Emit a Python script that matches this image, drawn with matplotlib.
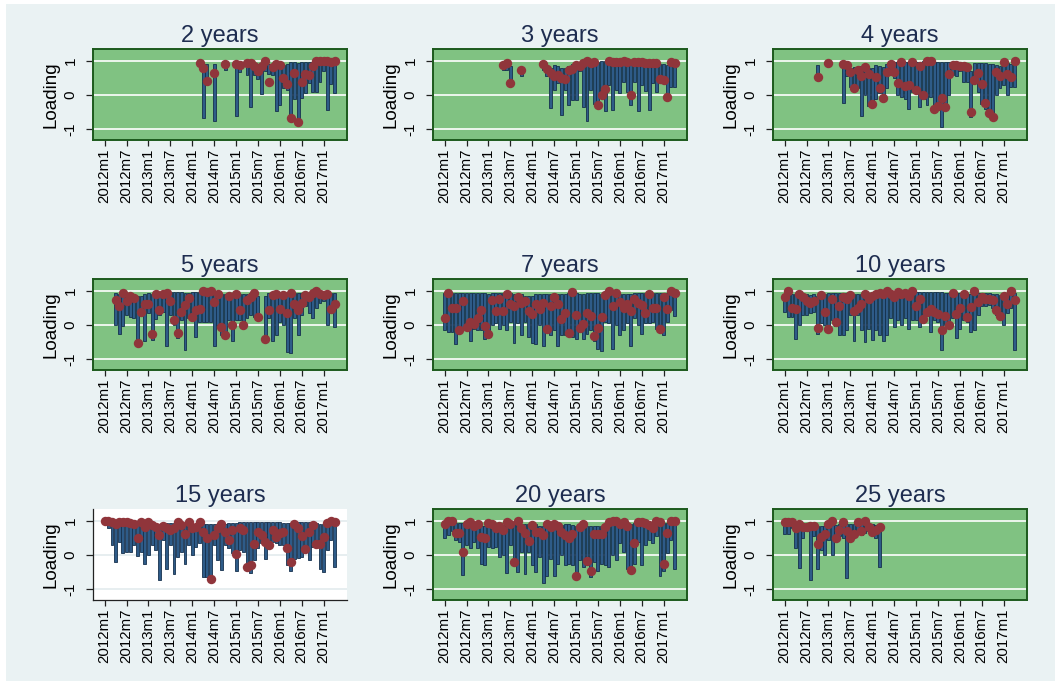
import numpy as np
import matplotlib
matplotlib.use("Agg")
import matplotlib.pyplot as plt
from matplotlib.patches import Rectangle

plt.rcParams['font.family'] = ['Liberation Sans', 'DejaVu Sans']

# months 0..63 = 2012m1 .. 2017m4
n_months = 64
tick_pos = list(range(0, 61, 6))
tick_labels = ['2012m1', '2012m7', '2013m1', '2013m7', '2014m1', '2014m7',
               '2015m1', '2015m7', '2016m1', '2016m7', '2017m1']
titles = ['2 years', '3 years', '4 years', '5 years', '7 years',
          '10 years', '15 years', '20 years', '25 years']

N = None

# 2 years (starts 2014m3)
y2_start = 26
y2_dot = [.94, .80, .41, N, .66, N, N, .90, N, N, .90, .88, N, .93, .95, .85, .72, .85,
          1.0, .38, .82, .90, .87, .50, .33, -.67, .66, -.77, .38, .63, .58, .85, .99,
          1.0, 1.0, 1.0, .98, .99]
y2_hi = [.94, .90, .90, N, .90, N, N, .92, N, N, .90, .90, N, .95, .95, .92, .90, .90,
         1.0, .90, .90, .90, .90, .88, .90, .97, .97, .95, .97, .98, .98, .98, 1.0,
         1.0, 1.0, 1.0, .98, .99]
y2_lo = [.85, -.67, .40, N, -.76, N, N, .75, N, N, -.60, .68, N, .58, -.35, .60, .47, .03,
         .70, .62, .60, -.47, -.28, .20, .15, -.67, -.10, -.77, -.07, .05, .35, .10, .10,
         .38, .70, -.42, .33, .05]

# 3 years (starts 2013m5)
y3_start = 16
y3_dot = [.88, .93, .36, N, N, .73, N, N, N, N, N, .90, .78, .65, .55, .60, .50, .48,
          .75, .78, .88, .85, .95, 1.0, .95, .97, -.30, .00, .18, 1.0, .98, .98, .98,
          1.0, .98, .00, .98, .97, .96, .95, .95, .95, .95, .48, .43, -.05, .97, .93]
y3_hi = [.90, .95, .85, N, N, .75, N, N, N, N, N, .90, .85, .80, .88, .85, .80, .80,
         .85, .92, .92, .95, .98, 1.0, .97, .98, .98, 1.0, 1.0, 1.0, 1.0, 1.0, 1.0,
         1.0, 1.0, .98, .98, .97, .97, .96, .96, .96, .96, .90, .90, .88, .97, .95]
y3_lo = [.75, .75, .36, N, N, .55, N, N, N, N, N, .75, .55, -.38, .15, .35, -.57, .15,
         -.30, -.15, -.15, .70, -.35, -.75, .15, -.25, -.30, -.02, -.47, .30, -.42, .15, .07,
         .40, .10, -.28, .40, -.47, .30, .12, -.42, .35, .10, .35, .40, -.05, .25, .25]

# 4 years (starts 2012m10)
y4_start = 9
y4_dot = [.52, N, N, .95, N, N, N, .91, .87, .69, .21, .75, .55, .83, .62, -.25, .52,
          .21, -.08, .69, .90, .69, .36, .98, .26, .31, .98, .16, .84, .00, 1.0, 1.0,
          -.41, -.32, -.08, -.35, .63, .87, .87, .84, .84, .81, -.49, .45, .64, .34,
          -.22, -.53, -.65, .67, .55, .98, .62, .53, 1.0]
y4_hi = [.87, N, N, N, N, N, N, .92, .88, .80, .82, .80, .85, .85, .80, .80, .88,
         .85, .82, .90, .92, .98, .98, .98, .97, .97, .98, .98, .95, 1.0, 1.0, 1.0,
         .98, .98, .98, .98, .98, .90, .90, .88, .88, .85, .70, .95, .95, .95,
         .95, .92, .90, .88, .85, .98, .95, .90, 1.0]
y4_lo = [.52, N, N, N, N, N, N, -.22, .55, .25, .30, .20, -.60, .00, -.33, -.25, -.10,
         .05, -.08, .20, .60, .50, .00, -.05, -.10, -.40, .10, .15, -.35, -.10, -.30, -.05,
         -.41, -.32, -.94, -.35, .00, .60, .55, .70, .40, .40, -.65, .45, .10, -.25,
         -.40, -.53, -.65, .00, .20, .30, .00, .25, .25]

# 5 years (starts 2012m4)
y5_start = 3
y5_dot = [.74, .55, .94, .70, .84, .80, -.53, .38, .62, .62, -.25, .92, .45, .92, .94,
          .70, .14, -.23, .38, .60, .80, .25, .45, .48, 1.0, .97, 1.0, .67, .92, -.04,
          -.30, .84, .00, .90, .45, .02, .74, .82, .94, .23, N, -.40, .45, .87, .92,
          .48, .87, .35, .94, .62, .43, .64, .87, .82, .94, 1.0, .90, .87, .92, .48, .62]
y5_hi = [.95, .90, .95, .90, .88, .88, .85, .85, .90, .95, .90, .95, .90, .95, .95,
         .98, .98, .98, .98, .95, .95, .98, .98, .98, 1.0, .98, 1.0, .98, .95, .92,
         .92, .95, .95, .95, .90, .90, .90, .95, .95, .85, N, .85, .95, .95, .95,
         .95, .92, .90, .95, .95, .95, .95, .95, .95, .95, 1.0, .97, .97, .97, .95, .95]
y5_lo = [.00, -.25, -.01, .30, .25, .20, -.53, .35, -.47, .35, -.42, .18, .30, .40, -.60,
         .30, .00, -.38, .15, -.72, .20, .20, -.35, .10, .10, .10, .10, -.62, .00, -.30,
         -.30, .15, -.47, .15, .15, .00, .20, .30, .25, .23, N, -.40, .20, -.45, -.30,
         .10, .00, -.78, -.82, .20, -.30, .30, .55, .35, .20, .50, .65, .70, .00, .45, -.05]

# 7 years (starts 2012m1)
y7_start = 0
y7_dot = [.20, .95, .49, .51, -.14, .71, -.04, .08, .03, .22, .45, -.02, -.26, .74, .42,
          .78, .42, .90, .61, .56, .81, .66, .71, .42, .32, .61, .47, .64, -.12, .56,
          .81, .61, .19, .35, -.23, .98, .29, -.07, .03, .35, .27, -.33, -.07, .25,
          .87, 1.0, .56, .95, .68, .51, .61, .42, .76, .64, .58, .37, .90, .51, .51,
          -.10, .83, .47, 1.0, .95]
y7_hi = [.95, .97, .95, .95, .95, .95, .95, .95, .95, .95, .95, .95, .90, .95, .95,
         .95, .95, .95, .95, .92, .92, .90, .85, .85, .85, .92, .90, .92, .92, .90,
         .90, .90, .90, .90, .95, .98, .95, .92, .92, .95, .95, .95, .95, .92,
         .92, 1.0, .98, .98, .92, .90, .90, .90, .95, .95, .95, .95, .95, .95, .95,
         .95, .95, .95, 1.0, .97]
y7_lo = [-.15, -.20, -.20, -.55, -.14, -.10, -.05, -.45, -.10, -.15, -.15, -.40, -.26, .00, .05,
         -.10, .00, -.15, .10, -.52, .05, -.30, .10, -.35, -.52, -.55, .00, -.60, -.12, -.30,
         -.15, -.62, -.30, -.30, -.23, -.35, -.40, -.07, -.40, -.25, -.15, -.45, -.70, -.75,
         .10, .05, -.70, .00, -.30, -.15, .05, -.62, .20, .00, -.27, .05, .05, .10, -.10,
         -.10, -.30, .10, .45, .28]

# 10 years (starts 2012m1)
y10_start = 0
y10_dot = [.83, 1.0, .51, .47, .90, .81, .71, .66, .71, -.07, .87, .39, -.12, .78, .08,
           .56, .81, .76, .87, .42, .51, .61, .90, .78, .85, .90, .93, .90, 1.0, .90,
           .83, .97, .90, .95, .85, 1.0, .56, .78, .17, .39, .47, .39, .32, -.14, .27,
           .01, .95, .32, .51, .90, .24, .54, 1.0, .68, .83, .78, .78, .74, .45, .27,
           .85, .61, 1.0, .74]
y10_hi = [.90, 1.0, .90, .90, .92, .92, .90, .88, .90, .85, .92, .92, .95, .95, .95,
          .95, .92, .95, .95, .90, .90, .92, .95, .95, .95, .95, .95, .95, 1.0, .95,
          .95, .97, .95, .97, .95, 1.0, .98, .98, .98, .98, .98, .98, .97, .97, .95,
          .95, .97, .95, .95, .95, .92, .90, 1.0, .95, .95, .95, .95, .92, .90, .88,
          .95, .95, 1.0, .95]
y10_lo = [.40, .25, .25, -.40, .00, .30, .30, .35, .40, -.27, .05, .00, -.20, .15, -.02,
          -.28, -.28, -.15, .30, -.45, .30, -.15, -.50, -.10, -.42, -.15, -.30, -.45, -.30, .20,
          -.05, .15, .00, .20, -.10, .15, .15, -.05, .15, .35, -.20, .15, .10, -.73, .00,
          .00, .20, -.38, -.10, .15, .10, -.20, -.15, .30, .55, .55, .60, .50, .30, .20,
          .00, .35, .50, -.72]

# 15 years (starts 2012m1)
y15_start = 0
y15_dot = [1.0, 1.0, .96, .90, .96, .96, .98, .93, .90, .49, .96, .83, .96, .88, .83,
           .60, .86, .80, .73, .78, .98, .88, .63, .96, .78, .83, .96, .67, .51, -.71,
           .59, .78, .90, .69, .44, .73, .02, .78, .73, -.34, -.29, .34, .67, .59, .39,
           .29, .73, .54, .64, .69, .20, -.20, .90, .78, .57, .18, .67, .88, .34, .34,
           .54, .93, 1.0, .98]
y15_hi = [1.0, 1.0, .96, .93, .96, .96, .98, .95, .92, .90, .96, .90, .96, .90, .90,
          .90, .92, .95, .95, .95, .98, .95, .95, .96, .92, .92, .96, .90, .90, .90,
          .90, .90, .90, .92, .95, .95, .95, .97, .97, .97, .97, .97, .97, .97, .97,
          .98, .98, .98, .98, .95, .95, .95, .95, .98, .98, .98, .97, .97, .95, .92,
          .90, .95, 1.0, .98]
y15_lo = [.90, .80, .30, -.20, .40, .05, .08, .10, .30, -.03, .08, -.25, .00, .30, .15,
          -.72, .45, -.40, .30, -.55, -.05, .10, -.27, .30, .00, .25, .35, -.65, -.65, -.71,
          .30, -.15, -.42, .30, .20, .05, -.45, .15, .10, -.34, -.52, -.15, .20, .35, -.10,
          .25, .40, .35, .30, .30, -.30, -.45, -.10, -.08, -.05, .18, -.15, .25, .30, -.40,
          -.48, .15, .45, -.35]

# 20 years (starts 2012m1)
y20_start = 0
y20_dot = [.90, 1.0, 1.0, .65, .65, .10, .90, .97, .84, .90, .53, .49, .94, .90, .78,
           .84, .73, .97, .92, -.19, 1.0, .78, .65, .42, .87, .68, .68, .58, .90, .81,
           .92, .84, .68, .58, .51, .63, -.61, .81, .90, -.17, -.46, .63, .63, .61, .81,
           .97, 1.0, 1.0, .90, .97, .84, -.44, .36, .97, .97, .94, .87, .78, 1.0, .97,
           -.26, .65, 1.0, 1.0]
y20_hi = [.92, 1.0, 1.0, .95, .95, .95, .97, .97, .90, .92, .85, .85, .95, .92, .90,
          .90, .88, .97, .95, .92, 1.0, .92, .92, .92, .95, .90, .85, .85, .95, .95,
          .92, .90, .88, .90, .90, .88, .85, .88, .90, .85, .85, .85, .85, .85, .90,
          .97, 1.0, 1.0, .95, .97, .92, .90, .95, .97, .97, .95, .92, .88, 1.0, .97,
          .95, .95, 1.0, 1.0]
y20_lo = [.50, .60, .70, .45, .40, -.58, .30, .20, .40, .20, -.25, -.30, .25, .20, .25,
          -.05, .00, -.52, .30, -.19, -.48, .10, -.55, .10, -.30, -.50, -.05, -.80, -.60, -.10,
          -.60, -.25, .00, -.30, -.25, -.30, -.70, -.15, -.35, -.30, -.65, -.20, -.45, -.25, -.30,
          -.35, .00, -.15, .35, .10, -.40, -.44, -.25, .40, -.30, .30, .45, .35, .55, -.60,
          -.45, .05, .45, -.40]

# 25 years (starts 2012m1, ends 2014m3)
y25_start = 0
y25_dot = [.97, .97, .97, .78, .90, .81, .81, .84, .84, .34, .53, .61, .90, 1.0, .49,
           .75, .97, .71, .51, .61, .97, .71, 1.0, .81, .68, .73, .83]
y25_hi = [.97, .97, .97, .90, .95, .90, .90, .90, .90, .85, .85, .85, .92, 1.0, .88,
          .92, .97, .90, .90, .90, .97, .90, 1.0, .95, .90, .88, .88]
y25_lo = [.62, .62, .80, .20, -.38, .50, .70, -.73, .55, -.40, .15, .00, .45, .00, .49,
          .55, .50, -.68, .51, .55, .65, .60, .65, .70, .60, .50, -.35]

panels = [
    (y2_start, y2_dot, y2_hi, y2_lo),
    (y3_start, y3_dot, y3_hi, y3_lo),
    (y4_start, y4_dot, y4_hi, y4_lo),
    (y5_start, y5_dot, y5_hi, y5_lo),
    (y7_start, y7_dot, y7_hi, y7_lo),
    (y10_start, y10_dot, y10_hi, y10_lo),
    (y15_start, y15_dot, y15_hi, y15_lo),
    (y20_start, y20_dot, y20_hi, y20_lo),
    (y25_start, y25_dot, y25_hi, y25_lo),
]


def fill(start, vals):
    out = np.full(n_months, np.nan)
    for i, v in enumerate(vals):
        if v is not None:
            out[start + i] = v
    return out


W, H = 1055, 681
fig = plt.figure(figsize=(W / 100, H / 100), dpi=100, facecolor='white')
# light blue graph region with a thin white margin on the left and top
fig.patches.append(Rectangle((6 / W, 0), 1, 1 - 4 / H, transform=fig.transFigure,
                             facecolor='#eaf2f3', edgecolor='none', zorder=-10))

col_left = [93, 433, 773]
row_top = [49, 279, 509]
pw, ph = 254, 91

bar_face = '#2e5b88'
bar_edge = '#15304d'
dot_color = '#90353b'
green = '#80c282'
border = '#1d5a1d'
navy = '#1e2d50'

months = np.arange(n_months)

for k, (start, dot, hi, lo) in enumerate(panels):
    r, c = divmod(k, 3)
    ax = fig.add_axes([col_left[c] / W, 1 - (row_top[r] + ph) / H, pw / W, ph / H])
    d = fill(start, dot)
    h = fill(start, hi)
    l = fill(start, lo)

    plain = titles[k] == '15 years'
    if plain:
        ax.set_facecolor('white')
        for s in ['top', 'right']:
            ax.spines[s].set_visible(False)
        for s in ['left', 'bottom']:
            ax.spines[s].set_color('#222222')
            ax.spines[s].set_linewidth(0.9)
        grid_col = '#e3ebee'
    else:
        ax.set_facecolor(green)
        for s in ax.spines.values():
            s.set_color(border)
            s.set_linewidth(1.4)
        grid_col = 'white'

    for gy in [-1, 0, 1]:
        ax.axhline(gy, color=grid_col, lw=1.2, zorder=1)

    mb = ~np.isnan(h) & ~np.isnan(l)
    ax.bar(months[mb], h[mb] - l[mb], bottom=l[mb], width=0.8,
           color=bar_face, edgecolor=bar_edge, linewidth=0.6, zorder=2)
    md = ~np.isnan(d)
    ax.scatter(months[md], d[md], s=46, color=dot_color, linewidths=0, zorder=3)

    ax.set_xlim(-3.2, 66.4)
    ax.set_ylim(-1.31, 1.35)
    ax.set_yticks([-1, 0, 1])
    ax.set_yticklabels(['-1', '0', '1'], rotation=90, va='center', fontsize=11)
    ax.set_xticks(tick_pos)
    ax.set_xticklabels(tick_labels, rotation=90, fontsize=10.8)
    ax.tick_params(axis='y', length=5, width=0.9, pad=6, color='#222222')
    ax.tick_params(axis='x', length=4, width=0.9, pad=2, color='#222222')
    ax.set_ylabel('Loading', fontsize=13.5, labelpad=3)
    ax.set_title(titles[k], fontsize=17, color=navy, pad=5)

fig.savefig('out.png', dpi=100, facecolor=fig.get_facecolor())
